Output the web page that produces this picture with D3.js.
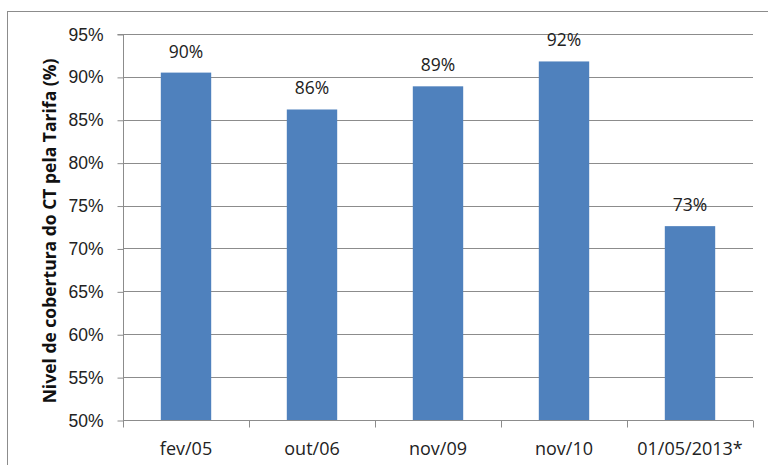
<!DOCTYPE html>
<html>
<head>
<meta charset="utf-8">
<script src="https://cdn.jsdelivr.net/npm/d3@7"></script>
<style>
  body { margin: 0; background: #fff; }
  svg { display: block; font-family: "Open Sans", "Liberation Sans", sans-serif; }
</style>
</head>
<body>
<script>
var categories = ["fev/05", "out/06", "nov/09", "nov/10", "01/05/2013*"];
var values = [90.5, 86.2, 88.9, 91.8, 72.6];
var valueLabels = ["90%", "86%", "89%", "92%", "73%"];
var yTicks = [50, 55, 60, 65, 70, 75, 80, 85, 90, 95];

var w = 768, h = 465;
var margin = {left: 123, right: 15, top: 34, bottom: 45};

var svg = d3.select("body").append("svg").attr("width", w).attr("height", h);

// outer frame
svg.append("rect")
  .attr("x", 7.5).attr("y", 11.5)
  .attr("width", 770).attr("height", 470)
  .attr("fill", "none").attr("stroke", "#8c8c8c");

var x = d3.scaleBand().domain(categories)
  .range([margin.left, w - margin.right])
  .paddingInner(0.6).paddingOuter(0.3);
var y = d3.scaleLinear().domain([50, 95]).range([h - margin.bottom, margin.top]);

// gridlines
svg.append("g").selectAll("line").data(yTicks.slice(1)).enter().append("line")
  .attr("x1", margin.left).attr("x2", w - margin.right)
  .attr("y1", function(d){ return Math.round(y(d)) + 0.5; })
  .attr("y2", function(d){ return Math.round(y(d)) + 0.5; })
  .attr("stroke", "#8c8c8c");

// y axis
var yAxis = d3.axisLeft(y).tickValues(yTicks).tickSize(6).tickPadding(14)
  .tickFormat(function(d){ return d + "%"; });
var gy = svg.append("g").attr("transform", "translate(" + (margin.left + 0.5) + ",0.5)").call(yAxis);
gy.select(".domain").attr("stroke", "#8c8c8c").attr("d", "M-6," + Math.round(y(95)) + "H0V" + Math.round(y(50)));
gy.selectAll(".tick line").attr("stroke", "#8c8c8c");
gy.selectAll(".tick text").attr("font-size", 17.5).attr("fill", "#222");

// bars
svg.append("g").selectAll("rect").data(values).enter().append("rect")
  .attr("x", function(d, i){ return x(categories[i]); })
  .attr("y", function(d){ return y(d); })
  .attr("width", x.bandwidth())
  .attr("height", function(d){ return y(50) - y(d); })
  .attr("fill", "#4f81bd");

// value labels
svg.append("g").selectAll("text").data(values).enter().append("text")
  .attr("x", function(d, i){ return x(categories[i]) + x.bandwidth() / 2; })
  .attr("y", function(d){ return y(d) - 15; })
  .attr("text-anchor", "middle")
  .attr("font-size", 17.5).attr("fill", "#222")
  .text(function(d, i){ return valueLabels[i]; });

// x axis with ticks at category boundaries
var base = Math.round(y(50)) + 0.5;
svg.append("line").attr("x1", margin.left).attr("x2", w - margin.right)
  .attr("y1", base).attr("y2", base).attr("stroke", "#8c8c8c");
var step = x.step();
var bounds = categories.map(function(c){ return x(c) - (step - x.bandwidth()) / 2; });
bounds.push(w - margin.right);
svg.append("g").selectAll("line").data(bounds).enter().append("line")
  .attr("x1", function(d){ return Math.round(d) + 0.5; })
  .attr("x2", function(d){ return Math.round(d) + 0.5; })
  .attr("y1", base).attr("y2", base + 7)
  .attr("stroke", "#8c8c8c");
svg.append("g").selectAll("text").data(categories).enter().append("text")
  .attr("x", function(d){ return x(d) + x.bandwidth() / 2; })
  .attr("y", 455)
  .attr("text-anchor", "middle")
  .attr("font-size", 18).attr("fill", "#222")
  .text(function(d){ return d; });

// y title
svg.append("text")
  .attr("transform", "translate(56," + (y(72.5) + 4) + ") rotate(-90)")
  .attr("text-anchor", "middle")
  .attr("font-size", 17.5).attr("font-weight", "bold").attr("fill", "#111")
  .text("Nivel de cobertura do CT pela Tarifa (%)");
</script>
</body>
</html>
